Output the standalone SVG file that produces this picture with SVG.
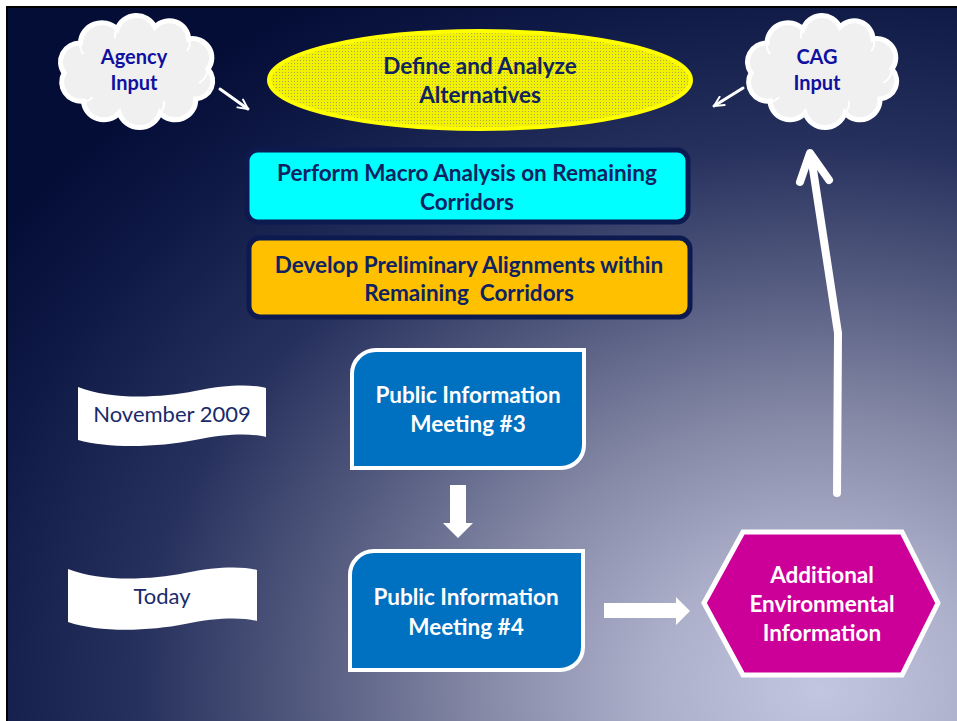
<svg xmlns="http://www.w3.org/2000/svg" width="957" height="721" viewBox="0 0 957 721">
  <defs>
    <radialGradient id="bg" gradientUnits="userSpaceOnUse" cx="820" cy="690" r="1000" gradientTransform="translate(820 690) scale(1 0.8) translate(-820 -690)">
      <stop offset="0" stop-color="#c3c6e0"/>
      <stop offset="0.17" stop-color="#abafca"/>
      <stop offset="0.34" stop-color="#8589a6"/>
      <stop offset="0.5" stop-color="#575e82"/>
      <stop offset="0.68" stop-color="#27315d"/>
      <stop offset="0.88" stop-color="#0e1844"/>
      <stop offset="1" stop-color="#040d36"/>
    </radialGradient>
    <pattern id="dots" width="3" height="3" patternUnits="userSpaceOnUse">
      <rect width="3" height="3" fill="#f2f200"/>
      <rect width="1" height="1" fill="#a8a850"/>
    </pattern>
    <path id="cloud" d="M6,52 A19,19 0 0 1 22,22 A21,21 0 0 1 58,8 A20,20 0 0 1 95,6 A19,19 0 0 1 128,18 A19,19 0 0 1 147,48 A18,18 0 0 1 135,78 A20,20 0 0 1 100,92 A21,21 0 0 1 60,92 A20,20 0 0 1 25,80 A19,19 0 0 1 6,52 Z"/>
    <path id="cloudLines" d="M22,22 A14,14 0 0 0 25,33 M58,8 A12,12 0 0 0 56,17 M128,18 A10,10 0 0 1 126,30 M147,48 A18,18 0 0 1 138,62 M100,92 A14,14 0 0 0 104,80 M25,80 A10,10 0 0 0 34,76"/>
    <marker id="open" viewBox="0 0 10 10" refX="9" refY="5" markerWidth="4" markerHeight="4" orient="auto" markerUnits="strokeWidth">
      <path d="M1,1 L9,5 L1,9" fill="none" stroke="#ffffff" stroke-width="1.6" stroke-linecap="round" stroke-linejoin="round"/>
    </marker>
  </defs>
  <style>
    .bold { font-family: Lato, "Open Sans", "Liberation Sans", sans-serif; font-weight: 700; font-size: 22.5px; text-anchor: middle; }
    .reg { font-family: Lato, "Open Sans", "Liberation Sans", sans-serif; font-weight: 400; font-size: 22px; text-anchor: middle; fill: #1a2a6a; }
    .cloudShape { fill: #f0f0f0; stroke: #ffffff; stroke-width: 5; }
    .cloudLine { fill: none; stroke: #ffffff; stroke-width: 2; }
    .cloudTxt { fill: #1010a0; font-size: 20px; }
    .navy { fill: #0f2262; }
    .white { fill: #ffffff; }
    .box { stroke: #0d1a50; stroke-width: 5; }
    .pim { fill: #0070c0; stroke: #ffffff; stroke-width: 4; }
    .flag { fill: #ffffff; }
  </style>

  <!-- page frame and backdrop -->
  <rect width="957" height="721" fill="#ffffff"/>
  <rect x="7" y="7" width="960" height="730" fill="url(#bg)" stroke="#000000" stroke-width="2"/>

  <!-- connectors -->
  <g id="connectors">
    <line x1="220" y1="89" x2="248" y2="109" stroke="#ffffff" stroke-width="3" stroke-linecap="round" marker-end="url(#open)"/>
    <line x1="743" y1="88" x2="714" y2="106" stroke="#ffffff" stroke-width="3" stroke-linecap="round" marker-end="url(#open)"/>
    <polygon points="450,485 466,485 466,523 473,523 458,538 443,523 450,523" fill="#ffffff"/>
    <polygon points="604,603 676,603 676,597 690,611 676,625 676,618 604,618" fill="#ffffff"/>
    <polyline points="837,493 838,333 811,156" fill="none" stroke="#ffffff" stroke-width="8" stroke-linecap="round" stroke-linejoin="round"/>
    <polyline points="800,182 810,153 829,180" fill="none" stroke="#ffffff" stroke-width="8" stroke-linecap="round" stroke-linejoin="round"/>
  </g>

  <!-- agency input cloud -->
  <g id="agency-input">
    <g transform="translate(58 21) scale(1.02 1)">
      <use href="#cloud" class="cloudShape"/>
      <use href="#cloudLines" class="cloudLine"/>
    </g>
    <text class="bold cloudTxt" x="134" y="64">Agency</text>
    <text class="bold cloudTxt" x="134" y="90">Input</text>
  </g>

  <!-- CAG input cloud -->
  <g id="cag-input">
    <g transform="translate(745 21)">
      <use href="#cloud" class="cloudShape"/>
      <use href="#cloudLines" class="cloudLine"/>
    </g>
    <text class="bold cloudTxt" x="817" y="64">CAG</text>
    <text class="bold cloudTxt" x="817" y="90">Input</text>
  </g>

  <!-- define and analyze alternatives -->
  <g id="define-analyze">
    <ellipse cx="480" cy="80" rx="211" ry="49" fill="url(#dots)" stroke="#ffff00" stroke-width="4"/>
    <text class="bold navy" x="480" y="74">Define and Analyze</text>
    <text class="bold navy" x="480" y="103">Alternatives</text>
  </g>

  <!-- macro analysis -->
  <g id="macro-analysis">
    <rect class="box" x="247" y="150" width="441" height="72" rx="11" fill="#00ffff"/>
    <text class="bold navy" x="467" y="181">Perform Macro Analysis on Remaining</text>
    <text class="bold navy" x="467" y="210">Corridors</text>
  </g>

  <!-- preliminary alignments -->
  <g id="preliminary-alignments">
    <rect class="box" x="249" y="238" width="441" height="79" rx="11" fill="#ffc000"/>
    <text class="bold navy" x="469" y="273">Develop Preliminary Alignments within</text>
    <text class="bold navy" x="469" y="301" xml:space="preserve">Remaining  Corridors</text>
  </g>

  <!-- date labels -->
  <g id="november-2009">
    <path class="flag" d="M78,387 C110,400 160,398 195,391 C225,385 250,384 266,388 L266,437 C250,433 225,434 195,440 C160,447 110,449 78,440 Z"/>
    <text class="reg" x="172" y="422">November 2009</text>
  </g>
  <g id="today">
    <path class="flag" d="M68,569 C100,582 150,580 185,573 C215,567 240,566 257,570 L257,621 C240,617 215,618 185,624 C150,631 100,633 68,622 Z"/>
    <text class="reg" x="162" y="604">Today</text>
  </g>

  <!-- public information meetings -->
  <g id="pim-3">
    <path class="pim" d="M352,374 A24,24 0 0 1 376,350 L584,350 L584,445 A23,23 0 0 1 561,468 L352,468 Z"/>
    <text class="bold white" x="468" y="403">Public Information</text>
    <text class="bold white" x="468" y="432">Meeting #3</text>
  </g>
  <g id="pim-4">
    <path class="pim" d="M350,575 A24,24 0 0 1 374,551 L583,551 L583,647 A23,23 0 0 1 560,670 L350,670 Z"/>
    <text class="bold white" x="466" y="605">Public Information</text>
    <text class="bold white" x="466" y="635">Meeting #4</text>
  </g>

  <!-- additional environmental information -->
  <g id="environmental-info">
    <polygon points="704,603 743,532 902,532 938,603 902,675 743,675" fill="#cc0099" stroke="#ffffff" stroke-width="5" stroke-linejoin="miter"/>
    <text class="bold white" x="822" y="583">Additional</text>
    <text class="bold white" x="822" y="612">Environmental</text>
    <text class="bold white" x="822" y="641">Information</text>
  </g>
</svg>
